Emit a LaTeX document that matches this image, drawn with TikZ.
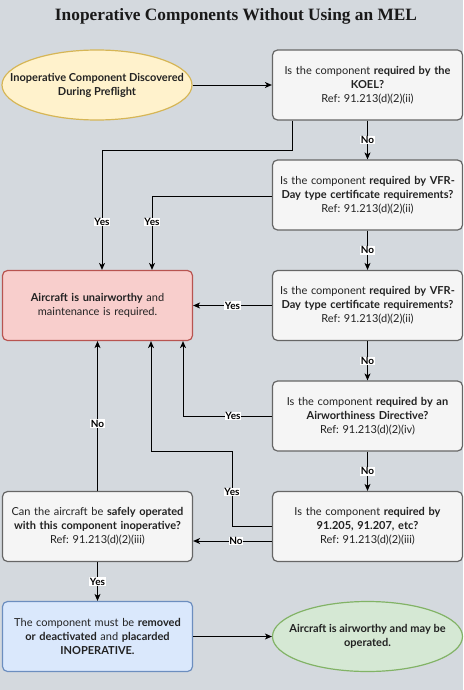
\documentclass[tikz,border=0pt]{standalone}
\usepackage{fontspec}
\usepackage{graphicx}
\setmainfont{Lato}
\newfontfamily\titlefont{Liberation Serif}
\usetikzlibrary{shapes.geometric,arrows.meta,calc}
\definecolor{bgc}{HTML}{D4D9DE}
\definecolor{gfill}{HTML}{F5F5F5}
\definecolor{gline}{HTML}{666666}
\definecolor{txt}{HTML}{222222}
\definecolor{yfill}{HTML}{FFF2CC}
\definecolor{yline}{HTML}{D6B656}
\definecolor{rfill}{HTML}{F8CECC}
\definecolor{rline}{HTML}{B85450}
\definecolor{bfill}{HTML}{DAE8FC}
\definecolor{bline}{HTML}{6C8EBF}
\definecolor{grfill}{HTML}{D5E8D4}
\definecolor{grline}{HTML}{82B366}
\frenchspacing
\begin{document}
\begin{tikzpicture}[x=1pt,y=-1pt,
  base/.style={minimum width=190pt,minimum height=70pt,inner sep=2pt,align=center,text width=184pt,
    font=\fontsize{11}{14}\selectfont,text=txt,line width=1.2pt},
  qbox/.style={base,rectangle,rounded corners=5pt,draw=gline,fill=gfill},
  ellnode/.style={ellipse,minimum width=190pt,minimum height=70pt,inner sep=0pt,line width=1.2pt},
  etext/.style={align=center,font=\fontsize{11}{14}\selectfont\bfseries,text=txt},
  arr/.style={-{Stealth[length=7pt,width=6pt,inset=2pt]},line width=0.9pt,black},
  lab/.style={fill=white,inner sep=0.6pt,font=\bfseries\fontsize{10}{11}\selectfont,text=black},
]
\useasboundingbox (0,0) rectangle (463,690);
\fill[bgc] (0,0) rectangle (463,690);
\node[text=black!90] (title) at (236,16) {\resizebox{362pt}{!}{\titlefont\bfseries Inoperative Components Without Using an MEL}};

\node[ellnode,draw=yline,fill=yfill] (start) at (97,85) {};
\node[etext] (starttext) at (start.center) {Inoperative Component Discovered\\During Preflight};
\node[qbox] (k1) at (367.5,85) {Is the component \textbf{required by the}\\\textbf{KOEL?}\\Ref: 91.213(d)(2)(ii)};
\node[qbox] (k2) at (367.5,195) {Is the component \textbf{required by VFR-}\\\textbf{Day type certificate requirements?}\\Ref: 91.213(d)(2)(ii)};
\node[qbox] (k3) at (367.5,305.5) {Is the component \textbf{required by VFR-}\\\textbf{Day type certificate requirements?}\\Ref: 91.213(d)(2)(ii)};
\node[qbox] (k4) at (367.5,416) {Is the component \textbf{required by an}\\\textbf{Airworthiness Directive?}\\Ref: 91.213(d)(2)(iv)};
\node[qbox] (k5) at (367.5,526.5) {Is the component \textbf{required by}\\\textbf{91.205, 91.207, etc?}\\Ref: 91.213(d)(2)(iii)};
\node[qbox,draw=rline,fill=rfill] (red) at (97.5,305.5) {\textbf{Aircraft is unairworthy} and\\maintenance is required.};
\node[qbox] (safe) at (97.5,526.5) {Can the aircraft be \textbf{safely operated}\\\textbf{with this component inoperative?}\\Ref: 91.213(d)(2)(iii)};
\node[qbox,draw=bline,fill=bfill] (blue) at (97.5,636.5) {The component must be \textbf{removed}\\\textbf{or deactivated} and \textbf{placarded}\\\textbf{INOPERATIVE.}};
\node[ellnode,draw=grline,fill=grfill] (green) at (367.5,636.5) {};
\node[etext] (greentext) at (green.center) {Aircraft is airworthy and may be\\operated.};

\coordinate (c1) at (292,150);
\coordinate (c2) at (102,0);
\coordinate (c3) at (152,196);
\coordinate (c4) at (183,416);
\coordinate (c5) at (232,526);
\coordinate (c6) at (151,451);
\coordinate (c7) at (0,541);

\draw[arr] (start) -- (k1);
\draw[arr] (k1) -- node[lab]{No} (k2);
\draw[arr] (k2) -- node[lab]{No} (k3);
\draw[arr] (k3) -- node[lab]{No} (k4);
\draw[arr] (k4) -- node[lab]{No} (k5);
\draw[arr] (k1.south -| c1) -- (c1) -| (red.north -| c2);
\node[lab] at (102,222) {Yes};
\draw[arr] (k2.west |- c3) -- (c3) -- (red.north -| c3);
\node[lab] at (152,222) {Yes};
\draw[arr] (k3) -- node[lab]{Yes} (red);
\draw[arr] (k4.west) -- (c4) -- (red.south -| c4);
\node[lab] at (233,416) {Yes};
\draw[arr] (k5.west |- c5) -- (c5) |- (c6) -- (red.south -| c6);
\node[lab] at (232,492) {Yes};
\draw[arr] (k5.west |- c7) -- (safe.east |- c7);
\node[lab] at (236,541) {No};
\draw[arr] (safe) -- node[lab,pos=0.45]{No} (red);
\draw[arr] (safe) -- node[lab]{Yes} (blue);
\draw[arr] (blue) -- (green);
\end{tikzpicture}
\end{document}
